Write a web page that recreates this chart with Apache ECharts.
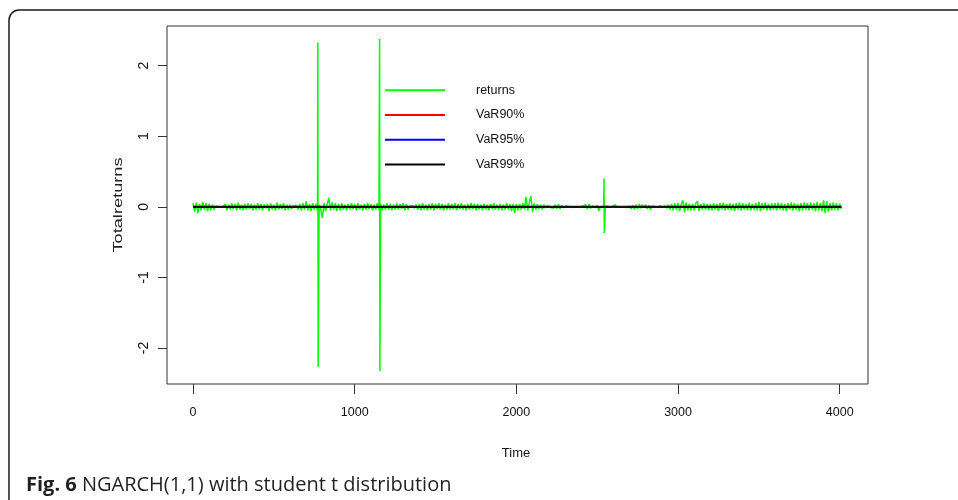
<!DOCTYPE html>
<html>
<head>
<meta charset="utf-8">
<script src="https://cdn.jsdelivr.net/npm/echarts@6/dist/echarts.min.js"></script>
<style>
  html, body { margin: 0; padding: 0; background: #ffffff; }
  #chart { width: 958px; height: 500px; }
</style>
</head>
<body>
<div id="chart"></div>
<script>
// ---- data ----
const timeStep = 10;            // returns sampled every 10 time units
const returnsValues = [
  0.05,-0.07,0.06,-0.09,0.04,-0.05,0.07,-0.04,0.05,-0.06,0.04,-0.05,0.03,-0.04,0.01,-0.01,0.0,0.01,-0.01,0.0,
  0.04,-0.05,0.03,-0.04,0.05,-0.03,0.04,-0.05,0.06,-0.04,0.03,-0.05,0.04,-0.04,0.05,-0.03,0.04,-0.05,0.03,-0.04,
  0.05,-0.04,0.04,-0.05,0.03,-0.02,0.04,-0.06,0.05,-0.04,0.03,-0.05,0.06,-0.04,0.04,-0.03,0.05,-0.05,0.03,-0.04,
  0.03,-0.03,0.01,-0.01,0.02,-0.04,0.04,-0.05,0.05,-0.04,0.08,-0.05,0.04,-0.06,0.05,-0.04,0.04,-0.05,0.03,-0.04,
  -0.16,0.05,-0.06,0.04,0.13,-0.05,0.06,-0.04,0.05,-0.06,0.04,-0.05,0.05,-0.04,0.03,-0.05,0.04,-0.04,0.05,-0.03,
  0.04,-0.05,0.05,-0.04,0.03,-0.05,0.04,-0.04,0.05,-0.03,0.04,-0.05,0.03,-0.04,0.05,-0.04,0.04,-0.05,0.03,-0.04,
  0.05,-0.04,0.04,-0.05,0.03,-0.04,0.05,-0.04,0.04,-0.03,0.05,-0.05,0.04,-0.04,0.01,-0.01,0.01,-0.02,0.03,-0.04,
  0.04,-0.05,0.05,-0.04,0.03,-0.05,0.04,-0.04,0.05,-0.05,0.04,-0.03,0.05,-0.04,0.04,-0.05,0.03,-0.04,0.05,-0.04,
  0.04,-0.04,0.05,-0.05,0.04,-0.03,0.05,-0.04,0.03,-0.05,0.04,-0.04,0.05,-0.03,0.04,-0.05,0.04,-0.04,0.03,-0.05,
  0.04,-0.04,0.03,-0.05,0.04,-0.03,0.05,-0.04,0.03,-0.04,0.04,-0.05,0.03,-0.04,0.05,-0.04,0.04,-0.06,0.04,-0.09,
  0.04,-0.05,0.04,-0.04,0.05,-0.03,0.14,-0.05,0.06,0.15,-0.08,0.05,-0.04,0.04,-0.03,0.03,-0.04,0.03,-0.02,0.02,
  0.01,-0.01,0.01,-0.02,0.03,-0.03,0.04,-0.03,0.02,-0.01,0.0,0.01,-0.01,0.0,0.02,-0.01,0.01,0.0,0.01,-0.01,
  0.0,0.01,-0.01,0.03,-0.03,0.04,-0.02,0.01,0.0,-0.01,0.02,-0.06,0.0,0.01,0.0,0.01,-0.01,0.0,0.01,0.0,
  0.0,0.03,0.0,-0.01,0.0,0.01,0.0,0.0,-0.01,0.0,0.01,-0.03,0.02,-0.04,0.03,-0.03,0.04,-0.02,0.03,-0.01,
  0.03,-0.03,0.02,-0.04,0.01,-0.01,0.0,0.01,-0.01,0.02,-0.01,0.0,0.01,-0.02,0.03,-0.04,0.04,-0.05,0.05,-0.04,
  0.05,-0.06,0.04,0.09,-0.08,0.06,-0.05,0.04,-0.05,0.04,-0.05,0.05,0.08,-0.06,0.04,-0.04,0.05,-0.04,0.04,-0.05,
  0.04,-0.05,0.05,-0.04,0.04,-0.06,0.05,-0.04,0.06,-0.05,0.04,-0.04,0.05,-0.05,0.04,-0.06,0.05,-0.04,0.06,-0.05,
  0.05,-0.04,0.04,-0.05,0.06,-0.05,0.04,-0.04,0.05,-0.05,0.07,-0.06,0.05,-0.04,0.06,-0.05,0.04,-0.05,0.05,-0.04,
  0.05,-0.05,0.06,-0.04,0.05,-0.05,0.04,-0.06,0.05,-0.04,0.06,-0.05,0.05,-0.04,0.04,-0.06,0.05,-0.05,0.06,-0.04,
  0.05,-0.05,0.06,-0.04,0.05,-0.06,0.07,-0.05,0.05,-0.06,0.09,-0.09,0.08,-0.07,0.05,-0.05,0.06,-0.04,0.05,-0.05,
  0.04,-0.03
];
// isolated extreme returns
const spikeTimes  = [772, 774, 1154, 1156, 2542, 2544];
const spikeValues = [2.33, -2.27, 2.38, -2.33, 0.40, -0.37];

// VaR series (nearly flat near zero)
const varTimes = [0, 1000, 2000, 3000, 4010];
const var90 = [-0.004, -0.004, -0.004, -0.004, -0.004];
const var95 = [-0.004, -0.004, -0.004, -0.004, -0.004];
const var99 = [0.001, 0.001, 0.001, 0.001, 0.001];

const xTicks = [0, 1000, 2000, 3000, 4000];
const yTicks = [-2, -1, 0, 1, 2];
const seriesNames = ['returns', 'VaR90%', 'VaR95%', 'VaR99%'];
const captionBold = 'Fig. 6';
const captionText = 'NGARCH(1,1) with student t distribution';
const xName = 'Time';
const yName = 'Totalreturns';

// ---- build series data ----
const returnsData = returnsValues.map((v, i) => [i * timeStep, v]);
spikeTimes.forEach((t, i) => returnsData.push([t, spikeValues[i]]));
returnsData.sort((a, b) => a[0] - b[0]);
const mk = arr => varTimes.map((t, i) => [t, arr[i]]);

const sans = "'Liberation Sans', Arial, sans-serif";

const chart = echarts.init(document.getElementById('chart'), null, { renderer: 'canvas' });
chart.setOption({
  animation: false,
  backgroundColor: '#ffffff',
  grid: {
    left: 167, right: 90, top: 26, bottom: 116,
    show: true, borderColor: '#333', borderWidth: 1, backgroundColor: 'transparent'
  },
  xAxis: {
    type: 'value', min: -161, max: 4175,
    splitLine: { show: false },
    axisLine: { show: false, onZero: false },
    axisTick: { show: true, customValues: xTicks, length: 10, lineStyle: { color: '#333' } },
    axisLabel: { customValues: xTicks, margin: 22, color: '#111', fontFamily: sans, fontSize: 12.5,
      formatter: v => String(v) }
  },
  yAxis: {
    type: 'value', min: -2.51, max: 2.56,
    splitLine: { show: false },
    axisLine: { show: false, onZero: false },
    axisTick: { show: true, customValues: yTicks, length: 9, lineStyle: { color: '#333' } },
    axisLabel: { customValues: yTicks, rotate: 90, margin: 16, color: '#111', fontFamily: sans, fontSize: 14,
      formatter: v => String(v) }
  },
  legend: {
    data: seriesNames,
    orient: 'vertical',
    left: 380, top: 76.8,
    icon: 'rect', itemWidth: 60, itemHeight: 2, itemGap: 7.7,
    textStyle: { fontFamily: sans, fontSize: 12.5, color: '#111', lineHeight: 12, padding: [5, 0, 0, 26] }
  },
  series: [
    { name: seriesNames[0], type: 'line', data: returnsData, showSymbol: false, symbol: 'none',
      lineStyle: { color: '#00ff00', width: 1.5 }, itemStyle: { color: '#00ff00' }, z: 2 },
    { name: seriesNames[1], type: 'line', data: mk(var90), showSymbol: false, symbol: 'none',
      lineStyle: { color: '#ff0000', width: 1 }, itemStyle: { color: '#ff0000' }, z: 3 },
    { name: seriesNames[2], type: 'line', data: mk(var95), showSymbol: false, symbol: 'none',
      lineStyle: { color: '#0000ff', width: 2 }, itemStyle: { color: '#0000ff' }, z: 4 },
    { name: seriesNames[3], type: 'line', data: mk(var99), showSymbol: false, symbol: 'none',
      lineStyle: { color: '#111111', width: 2 }, itemStyle: { color: '#000000' }, z: 5 }
  ],
  graphic: [
    { type: 'rect', silent: true,
      shape: { x: 9, y: 10, width: 1100, height: 700, r: 10 },
      style: { fill: 'none', stroke: '#1a1a1a', lineWidth: 1.5 } },
    { type: 'text', x: 118, y: 205, rotation: Math.PI / 2, scaleX: 1.4, silent: true,
      style: { text: yName, font: "13px " + sans, fill: '#222', textAlign: 'center', textVerticalAlign: 'middle' } },
    { type: 'text', x: 516, y: 453, silent: true,
      style: { text: xName, font: "13px " + sans, fill: '#111', textAlign: 'center', textVerticalAlign: 'middle' } },
    { type: 'text', x: 26, y: 485, silent: true,
      style: {
        text: '{b|' + captionBold + '} ' + captionText,
        fontFamily: "'Open Sans', sans-serif", fontSize: 20, fill: '#231f20',
        textVerticalAlign: 'middle',
        rich: { b: { fontFamily: "'Open Sans', sans-serif", fontSize: 20, fontWeight: 'bold', fill: '#231f20' } }
      } }
  ]
});
</script>
</body>
</html>
